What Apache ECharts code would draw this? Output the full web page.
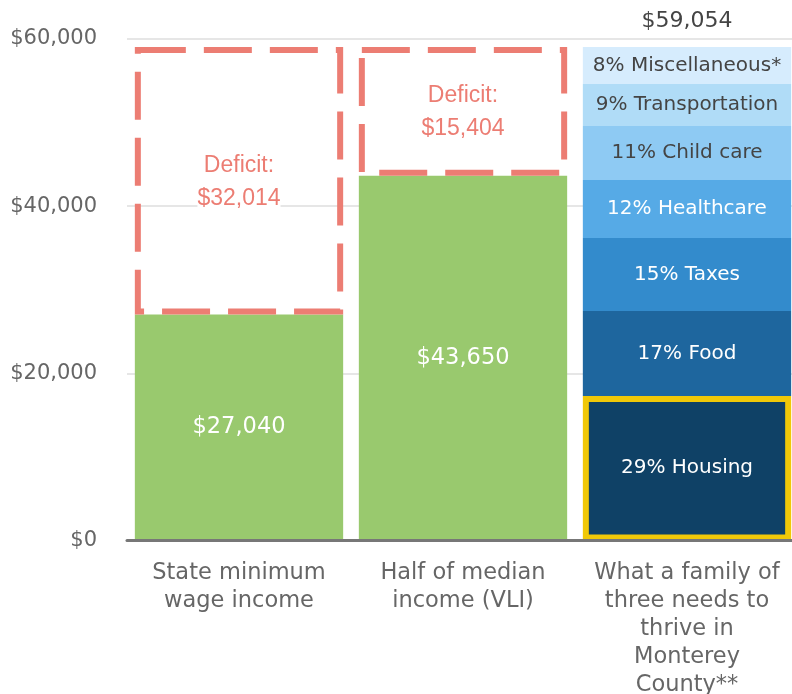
<!DOCTYPE html>
<html>
<head>
<meta charset="utf-8">
<script src="https://cdn.jsdelivr.net/npm/echarts@6/dist/echarts.min.js"></script>
<style>
html,body{margin:0;padding:0;background:#fff;overflow:hidden;}
#chart{width:792px;height:694px;}
</style>
</head>
<body>
<div id="chart"></div>
<script>
// ---- data ----
const categories = [
  'State minimum\nwage income',
  'Half of median\nincome (VLI)',
  'What a family of\nthree needs to\nthrive in\nMonterey\nCounty**'
];
const incomeValues = [27040, 43650];
const deficitValues = [32014, 15404];
const needTotal = 59054;
const budgetNames = ['Housing', 'Food', 'Taxes', 'Healthcare', 'Child care', 'Transportation', 'Miscellaneous*'];
const budgetPercents = [29, 17, 15, 12, 11, 9, 8];
const budgetValues = [17290, 10170, 8735, 6940, 6460, 5025, 4434];
const yTicks = [0, 20000, 40000, 60000];

// ---- styles ----
const budgetColors = ['#0f4166', '#1e669e', '#338bcc', '#56aae6', '#8ecaf3', '#b0dcf7', '#d6ecfd'];
const budgetLabelColors = ['#ffffff', '#ffffff', '#ffffff', '#ffffff', '#444444', '#444444', '#444444'];
const FONT = '"DejaVu Sans", sans-serif';
const coral = '#ec7d73';
const fmt = v => '$' + v.toLocaleString('en-US');

const chart = echarts.init(document.getElementById('chart'), null, {renderer: 'canvas', width: 792, height: 694});

const series = [];
series.push({
  type: 'bar', stack: 'total', barWidth: '93%',
  data: incomeValues.concat(['-']),
  itemStyle: {color: '#99c96e'},
  label: {show: true, position: 'inside', color: '#fff', fontFamily: FONT, fontSize: 22.5,
    formatter: p => fmt(p.value)}
});
budgetValues.forEach((v, i) => {
  series.push({
    type: 'bar', stack: 'total', barWidth: '93%',
    z: i === 0 ? 3 : 2,
    data: ['-', '-', v],
    itemStyle: i === 0 ? {color: budgetColors[i], borderColor: '#f0c808', borderWidth: 6}
                       : {color: budgetColors[i]},
    label: {show: true, position: 'inside', color: budgetLabelColors[i], fontFamily: FONT, fontSize: 20,
      formatter: () => budgetPercents[i] + '% ' + budgetNames[i]}
  });
});
// deficit boxes
series.push({
  type: 'custom', z: 4,
  data: incomeValues.map((v, i) => [i, v, deficitValues[i]]),
  encode: {x: 0, y: 1},
  renderItem: function (params, api) {
    const base = api.value(1), def = api.value(2);
    const p0 = api.coord([api.value(0), base]);
    const p1 = api.coord([api.value(0), base + def]);
    const bw = api.size([1, 0])[0] * 0.93;
    const lw = 6;
    const x = p0[0] - bw / 2 + lw / 2, y = p1[1] + lw / 2;
    const w = bw - lw, h = p0[1] - p1[1] - lw;
    return {type: 'group', children: [
      {type: 'rect', shape: {x: x, y: y, width: w, height: h},
       style: {fill: 'none', stroke: coral, lineWidth: lw, lineDash: [48, 18]}},
      {type: 'text', style: {text: 'Deficit:\n' + fmt(def), x: p0[0], y: (p0[1] + p1[1]) / 2 + 1,
        align: 'center', verticalAlign: 'middle', fill: coral,
        font: '23px "Liberation Sans", Arial, sans-serif', lineHeight: 33, backgroundColor: '#fff'}}
    ]};
  }
});
// total label above the third bar
series.push({
  type: 'custom', z: 4,
  data: [[2, needTotal]],
  encode: {x: 0, y: 1},
  renderItem: function (params, api) {
    const p = api.coord([api.value(0), api.value(1)]);
    return {type: 'text', style: {text: fmt(api.value(1)), x: p[0], y: p[1] - 26,
      align: 'center', verticalAlign: 'middle', fill: '#444',
      font: '22px ' + FONT}};
  }
});

chart.setOption({
  animation: false,
  backgroundColor: '#fff',
  grid: {left: 127, right: -7, top: 39, bottom: 153.5, containLabel: false, outerBoundsMode: 'none'},
  xAxis: {
    type: 'category', data: categories, z: 10,
    axisTick: {show: false},
    axisLine: {lineStyle: {color: '#777', width: 3}},
    axisLabel: {color: '#666', fontFamily: FONT, fontSize: 22.5, lineHeight: 28, margin: 19, interval: 0}
  },
  yAxis: {
    type: 'value', min: yTicks[0], max: yTicks[yTicks.length - 1], interval: yTicks[1] - yTicks[0],
    axisLine: {show: false}, axisTick: {show: false},
    splitLine: {lineStyle: {color: '#e6e6e6', width: 2}},
    axisLabel: {color: '#666', fontFamily: FONT, fontSize: 21, margin: 30, formatter: v => fmt(v)}
  },
  series: series
});
</script>
</body>
</html>
